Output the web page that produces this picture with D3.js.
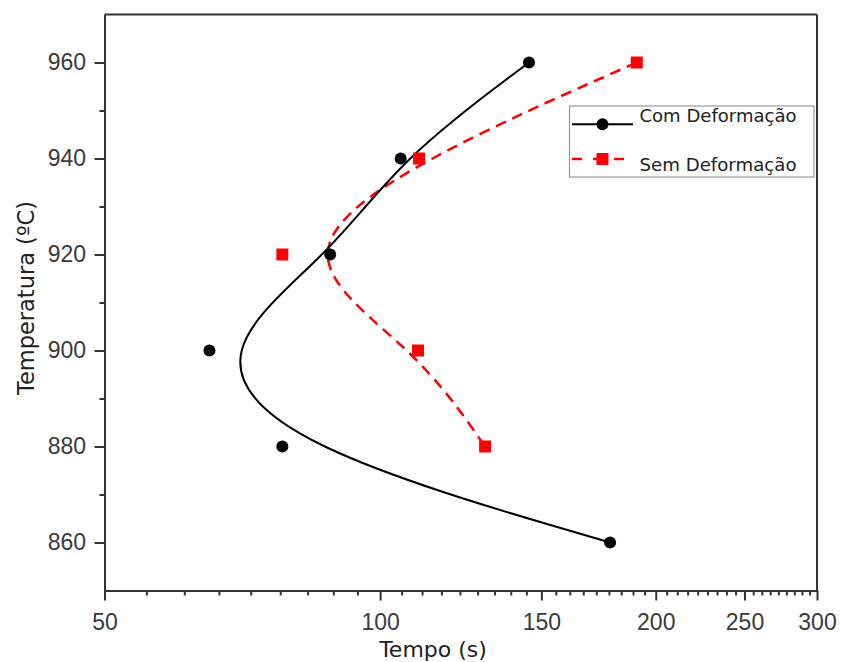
<!DOCTYPE html>
<html>
<head>
<meta charset="utf-8">
<script src="https://cdn.jsdelivr.net/npm/d3@7"></script>
<style>
  html, body { margin: 0; padding: 0; background: #fff; }
  svg { display: block; }
</style>
</head>
<body>
<div id="chart"></div>
<script>
// ---- data ----
const tempsCom = [960, 940, 920, 900, 880, 860];
const tempoCom = [145.4, 105.3, 88.2, 65.1, 78.2, 178.3];
const tempsSem = [960, 940, 920, 900, 880];
const tempoSem = [190.7, 110.3, 78.2, 110.0, 130.2];
const xTicks = [50, 100, 150, 200, 250, 300];
const yTicks = [860, 880, 900, 920, 940, 960];
const yMinorTicks = [870, 890, 910, 930, 950];
const xMinorPerInterval = 8;
const seriesNames = ["Com Deformação", "Sem Deformação"];
const xTitle = "Tempo (s)";
const yTitle = "Temperatura (ºC)";

// ---- setup ----
const W = 841, H = 662;
const pLeft = 104.5, pRight = 817, pTop = 14.5, pBottom = 590.5;
const svg = d3.select("#chart").append("svg").attr("width", W).attr("height", H);
svg.append("rect").attr("width", W).attr("height", H).attr("fill", "#fff");

const x = d3.scaleLog().domain([50, 300]).range([pLeft, pRight]);
const y = d3.scaleLinear().domain([850, 970]).range([pBottom, pTop]);

const axisColor = "#333";
const tickFont = "'Liberation Sans', Arial, sans-serif";
const titleFont = "'DejaVu Sans', Verdana, sans-serif";

// minor x ticks: evenly spaced values within each major interval
const xMinor = [];
for (let i = 0; i < xTicks.length - 1; i++) {
  const a = xTicks[i], b = xTicks[i + 1];
  for (let j = 1; j <= xMinorPerInterval; j++) xMinor.push(a + (b - a) * j / (xMinorPerInterval + 1));
}

function styleAxis(g) {
  g.select(".domain").attr("stroke", axisColor).attr("stroke-width", 2);
  g.selectAll(".tick line").attr("stroke", axisColor).attr("stroke-width", 2);
  g.selectAll(".tick text").attr("fill", "#3a3a3a").style("font-family", tickFont).style("font-size", "23px");
}

// minor ticks
svg.append("g").attr("transform", `translate(0,${pBottom})`)
  .call(d3.axisBottom(x).tickValues(xMinor).tickSize(5).tickSizeOuter(0).tickFormat(""))
  .call(styleAxis);
svg.append("g").attr("transform", `translate(${pLeft},0)`)
  .call(d3.axisLeft(y).tickValues(yMinorTicks).tickSize(5).tickSizeOuter(0).tickFormat(""))
  .call(styleAxis);

// major axes
svg.append("g").attr("transform", `translate(0,${pBottom})`)
  .call(d3.axisBottom(x).tickValues(xTicks).tickFormat(d3.format("d")).tickSize(10).tickSizeOuter(0).tickPadding(13))
  .call(styleAxis);
svg.append("g").attr("transform", `translate(${pLeft},0)`)
  .call(d3.axisLeft(y).tickValues(yTicks).tickFormat(d3.format("d")).tickSize(10).tickSizeOuter(0).tickPadding(8.5))
  .call(styleAxis);

// frame top & right
svg.append("line").attr("x1", pLeft).attr("x2", pRight).attr("y1", pTop).attr("y2", pTop)
  .attr("stroke", axisColor).attr("stroke-width", 2);
svg.append("line").attr("x1", pRight).attr("x2", pRight).attr("y1", pTop).attr("y2", pBottom)
  .attr("stroke", axisColor).attr("stroke-width", 2);

// ---- series ----
const com = tempsCom.map((T, i) => ({ T, t: tempoCom[i] }));
const sem = tempsSem.map((T, i) => ({ T, t: tempoSem[i] }));
const line = d3.line().x(d => x(d.t)).y(d => y(d.T)).curve(d3.curveBasis);

svg.append("path").datum(sem).attr("d", line).attr("fill", "none")
  .attr("stroke", "#ff0000").attr("stroke-width", 2.5).attr("stroke-dasharray", "11,7");
svg.append("path").datum(com).attr("d", line).attr("fill", "none")
  .attr("stroke", "#000").attr("stroke-width", 2);

const sq = 12;
svg.selectAll(".sq").data(sem).enter().append("rect")
  .attr("x", d => x(d.t) - sq / 2).attr("y", d => y(d.T) - sq / 2)
  .attr("width", sq).attr("height", sq).attr("fill", "#ff0000");
svg.selectAll(".dot").data(com).enter().append("circle")
  .attr("cx", d => x(d.t)).attr("cy", d => y(d.T)).attr("r", 6).attr("fill", "#000");

// ---- legend ----
const lg = svg.append("g");
lg.append("rect").attr("x", 569.5).attr("y", 106).attr("width", 244.5).attr("height", 71)
  .attr("fill", "#fff").attr("stroke", "#999").attr("stroke-width", 1.2);
lg.append("line").attr("x1", 572).attr("x2", 633).attr("y1", 124.3).attr("y2", 124.3)
  .attr("stroke", "#000").attr("stroke-width", 2);
lg.append("circle").attr("cx", 602.5).attr("cy", 124.3).attr("r", 6).attr("fill", "#000");
lg.append("line").attr("x1", 572).attr("x2", 633).attr("y1", 159).attr("y2", 159)
  .attr("stroke", "#ff0000").attr("stroke-width", 2.5).attr("stroke-dasharray", "10,11");
lg.append("rect").attr("x", 602.5 - sq / 2).attr("y", 159 - sq / 2).attr("width", sq).attr("height", sq).attr("fill", "#ff0000");
lg.append("text").attr("x", 639.5).attr("y", 122.3).text(seriesNames[0])
  .style("font-family", titleFont).style("font-size", "18px").attr("fill", "#222")
  .attr("textLength", 157).attr("lengthAdjust", "spacingAndGlyphs");
lg.append("text").attr("x", 639.5).attr("y", 171).text(seriesNames[1])
  .style("font-family", titleFont).style("font-size", "18px").attr("fill", "#222")
  .attr("textLength", 157).attr("lengthAdjust", "spacingAndGlyphs");

// ---- titles ----
svg.append("text").attr("x", 433).attr("y", 657).attr("text-anchor", "middle").text(xTitle)
  .style("font-family", titleFont).style("font-size", "22px").attr("fill", "#222");
svg.append("text").attr("transform", "translate(34,298) rotate(-90)").attr("text-anchor", "middle").text(yTitle)
  .style("font-family", titleFont).style("font-size", "22.5px").attr("fill", "#222");
</script>
</body>
</html>
